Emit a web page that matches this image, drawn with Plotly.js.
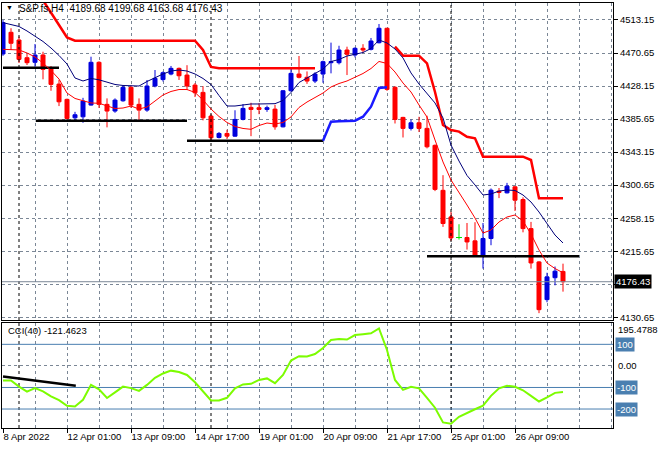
<!DOCTYPE html>
<html><head><meta charset="utf-8">
<script src="https://cdn.plot.ly/plotly-3.0.1.min.js"></script>
<style>html,body{margin:0;padding:0;background:#fff}#chart{width:660px;height:450px}</style>
</head><body><div id="chart"></div>
<script>
const symbolName = 'S&P.fs,H4';
const openP = [4469.4,4497.3,4487.4,4464.6,4458.7,4468.1,4451.7,4430.7,4411.0,4387.3,
4388.6,4403.7,4458.7,4404.6,4396.0,4409.2,4426.5,4404.6,4397.2,4428.2,
4436.5,4443.6,4450.9,4442.3,4429.4,4420.0,4389.5,4362.0,4367.2,4363.7,
4385.2,4400.7,4400.3,4398.1,4398.5,4375.7,4422.1,4443.6,4439.4,4434.6,
4443.6,4458.2,4458.2,4474.5,4468.1,4476.7,4475.4,4483.9,4502.5,4426.5,
4387.8,4373.7,4380.9,4373.7,4351.9,4294.0,4259.8,4233.3,4233.3,4229.0,
4209.2,4232.0,4293.0,4290.8,4298.5,4282.2,4244.8,4201.9,4153.4,4181.6,4189.68];
const highP = [4513.0,4502.5,4491.7,4469.4,4482.2,4472.3,4453.9,4435.9,4412.0,4395.0,
4413.0,4465.9,4460.0,4412.3,4412.3,4429.0,4429.0,4412.3,4435.9,4448.8,
4447.0,4454.0,4452.0,4455.0,4432.0,4428.0,4392.0,4369.0,4372.0,4397.0,
4405.0,4406.6,4406.0,4403.0,4404.0,4423.0,4450.0,4466.8,4447.0,4446.0,
4460.9,4484.0,4480.0,4478.8,4478.0,4482.0,4490.0,4508.0,4503.0,4428.0,
4388.6,4385.0,4388.6,4390.0,4353.0,4313.5,4266.3,4250.4,4252.0,4253.0,
4252.0,4296.4,4297.0,4303.6,4299.4,4285.0,4253.4,4203.0,4188.0,4196.0,4199.68];
const lowP = [4467.0,4474.5,4457.8,4455.2,4453.0,4436.8,4422.1,4402.4,4385.0,4382.0,
4380.9,4403.0,4400.0,4375.0,4393.8,4408.0,4400.0,4384.4,4395.0,4426.5,
4434.0,4442.0,4436.0,4423.0,4414.0,4384.0,4356.4,4360.8,4360.0,4363.0,
4384.0,4363.7,4392.0,4395.0,4372.0,4375.0,4421.0,4438.0,4431.0,4432.0,
4432.4,4444.5,4456.0,4442.3,4465.0,4471.0,4474.0,4483.0,4422.0,4380.0,
4362.0,4371.0,4369.0,4348.0,4293.0,4247.0,4229.0,4230.7,4217.8,4209.0,
4193.3,4223.4,4284.0,4290.0,4267.5,4240.0,4193.3,4136.0,4150.0,4171.8,4163.68];
const closeP = [4509.7,4483.2,4462.5,4458.2,4468.1,4449.6,4430.3,4407.9,4386.5,4391.2,
4408.8,4458.7,4404.6,4396.0,4410.1,4426.5,4403.7,4397.2,4428.2,4438.1,
4445.3,4450.9,4441.4,4428.2,4419.5,4387.3,4361.6,4367.2,4363.7,4385.2,
4399.4,4398.1,4398.1,4400.3,4375.7,4422.1,4444.5,4439.4,4434.6,4443.6,
4459.5,4459.5,4474.5,4469.0,4476.7,4474.5,4486.1,4502.5,4423.9,4385.2,
4373.7,4380.9,4373.7,4350.0,4295.2,4251.3,4232.8,4233.3,4227.6,4209.2,
4232.0,4294.2,4291.3,4299.4,4281.3,4244.8,4200.6,4140.5,4182.7,4190.0,4176.43];
const maFast = [4475.4,4474.6,4474.6,4470.7,4465.6,4457.8,4448.2,4437.2,4419.2,4412.2,
4408.9,4406.4,4406.0,4402.5,4399.3,4399.9,4402.5,4398.6,4401.2,4408.9,
4416.7,4421.2,4423.7,4423.7,4419.9,4410.2,4398.6,4389.0,4381.3,4376.1,
4373.6,4372.5,4377.4,4380.6,4379.3,4381.3,4388.4,4400.6,4407.6,4413.4,
4419.2,4427.0,4431.4,4434.7,4439.2,4444.3,4450.7,4459.8,4457.2,4446.2,
4432.1,4420.5,4403.8,4388.3,4358.8,4330.5,4307.3,4291.9,4275.1,4258.4,
4239.1,4242.9,4253.3,4259.7,4262.3,4254.5,4237.8,4217.2,4200.5,4193.4,4188.0];
const maSlow = [4509.7,4507.4,4504.8,4499.0,4491.9,4485.5,4477.1,4467.5,4456.5,4438.5,
4434.7,4437.9,4436.2,4432.7,4430.2,4428.9,4428.2,4428.2,4434.0,4439.2,
4443.7,4447.5,4448.8,4447.5,4443.7,4437.9,4430.2,4416.0,4402.5,4402.5,
4403.8,4405.1,4405.1,4405.1,4405.5,4409.6,4419.9,4432.7,4438.5,4443.7,
4450.1,4459.7,4462.3,4466.8,4469.1,4471.3,4476.5,4487.4,4483.6,4475.8,
4464.3,4445.0,4430.8,4419.2,4406.4,4387.1,4352.3,4331.7,4313.1,4300.9,
4288.0,4289.3,4293.1,4294.4,4293.8,4288.0,4279.0,4266.1,4250.7,4236.5,4226.3];
const stopUpper = [null,null,null,null,4554.3,4538.9,4523.4,4506.7,4490.6,4486.5,
4486.5,4486.5,4486.5,4486.5,4486.5,4486.5,4486.5,4486.5,4486.5,4486.5,
4486.5,4486.5,4486.5,4486.5,4486.5,4474.6,4452.7,4451.0,4451.0,4451.0,
4451.0,4451.0,4451.0,4451.0,4451.0,4451.0,4451.0,4451.0,4451.0,4451.0,
null,null,null,null,null,null,null,null,null,4478.8,
4467.2,4467.2,4467.2,4457.4,4420.5,4378.1,4371.6,4369.5,4363.0,4361.0,
4337.3,4337.3,4337.3,4337.3,4337.3,4337.3,4333.0,4283.7,4283.7,4283.7,4283.7];
const stopLower = [null,null,null,null,null,null,null,null,null,null,
null,null,null,null,null,null,null,null,null,null,
null,null,null,null,null,null,null,null,null,null,
null,null,null,null,null,null,null,null,null,null,
4357.9,4382.3,4382.8,4383.2,4383.6,4388.7,4401.6,4425.7,4426.6,null,
null,null,null,null,null,null,null,null,null,null,
null,null,null,null,null,null,null,null,null,null,null];
const cciName = 'CCI(40)';
const cci = [-68,-68,-96,-119,-103,-118,-141,-159,-185,-188,
-157,-88,-109,-149,-123,-96,-103,-116,-88,-55,
-35,-22,-28,-42,-76,-120,-160,-160,-148,-104,
-86,-83,-65,-58,-80,-42,25,45,44,55,
83,120,125,122,143,147,151,174,74,-65,
-111,-97,-104,-148,-194,-262,-268,-236,-217,-201,
-184,-139,-104,-92,-97,-113,-139,-165,-146,-125,-121.4623];
const cciLevels = [100, -100, -200];
const cciTrendX = [0, 9.1];
const cciTrendY = [-49.5, -92.5];
const supportLevels = [4451.7, 4383.5, 4357.7, 4209.2];
const supportFrom = [0, 4.1, 23, 53];
const supportTo = [7, 23, 40, 72];
const priceTicks = [4513.15,4470.65,4428.15,4385.65,4343.15,4300.65,4258.15,4215.65,4173.15,4130.65];
const priceTickText = ['4513.15','4470.65','4428.15','4385.65','4343.15','4300.65','4258.15','4215.65','','4130.65'];
const dateTickIdx = [0,8,16,24,32,40,48,56,64];
const dateTickText = ['8 Apr 2022','12 Apr 01:00','13 Apr 09:00','14 Apr 17:00','19 Apr 01:00','20 Apr 09:00','21 Apr 17:00','25 Apr 01:00','26 Apr 09:00'];
const separatorIdx = [2, 26, 56];
const cciAxisMax = 195.4788, cciAxisMin = -291.2113;

const FONT = 'Liberation Sans, Arial, sans-serif';
const GRID = '#7b8796';
const n = openP.length;
const idx = openP.map((_, i) => i);
const xRange = [-0.125, 76.25];
const mainRange = [4127.2, 4535.0];
const cciRange = [-288, 199];
const gridIdx = [];
for (let k = 4; k <= 76; k += 4) gridIdx.push(k);
const last = n - 1;

const isDoji = i => openP[i] === closeP[i];
const cIdx = idx.filter(i => !isDoji(i));
const dIdx = idx.filter(i => isDoji(i));

const traces = [];
const sepX = [], sepYm = [], sepYc = [];
separatorIdx.forEach(k => { sepX.push(k, k, null); sepYm.push(mainRange[0], mainRange[1], null); sepYc.push(cciRange[0], cciRange[1], null); });
traces.push({type:'scatter', mode:'lines', x:sepX, y:sepYm, xaxis:'x', yaxis:'y', line:{color:'#000', width:1, dash:'3px,3px'}, hoverinfo:'skip'});
traces.push({type:'scatter', mode:'lines', x:sepX, y:sepYc, xaxis:'x2', yaxis:'y2', line:{color:'#000', width:1, dash:'3px,3px'}, hoverinfo:'skip'});
traces.push({type:'scatter', mode:'lines', x:xRange, y:[closeP[last], closeP[last]], xaxis:'x', yaxis:'y', line:{color:GRID, width:1}, hoverinfo:'skip'});
const lvX = [], lvY = [];
cciLevels.forEach(v => { lvX.push(xRange[0], xRange[1], null); lvY.push(v, v, null); });
traces.push({type:'scatter', mode:'lines', x:lvX, y:lvY, xaxis:'x2', yaxis:'y2', line:{color:'#4a7fb0', width:1}, hoverinfo:'skip'});
const sx = [], sy = [];
supportLevels.forEach((v, i) => { sx.push(supportFrom[i], supportTo[i], null); sy.push(v, v, null); });
traces.push({type:'scatter', mode:'lines', x:sx, y:sy, xaxis:'x', yaxis:'y', line:{color:'#000', width:2.5}, hoverinfo:'skip'});
traces.push({type:'scatter', mode:'lines', x:idx, y:stopUpper, xaxis:'x', yaxis:'y', line:{color:'#ff0000', width:2.5}, connectgaps:false, hoverinfo:'skip'});
traces.push({type:'scatter', mode:'lines', x:idx, y:stopLower, xaxis:'x', yaxis:'y', line:{color:'#1a1aff', width:2.5}, connectgaps:false, hoverinfo:'skip'});
traces.push({type:'scatter', mode:'lines', x:idx, y:maSlow, xaxis:'x', yaxis:'y', line:{color:'#00007a', width:1}, hoverinfo:'skip'});
traces.push({type:'scatter', mode:'lines', x:idx, y:maFast, xaxis:'x', yaxis:'y', line:{color:'#ff0000', width:1}, hoverinfo:'skip'});
traces.push({type:'candlestick', x:cIdx, open:cIdx.map(i=>openP[i]), high:cIdx.map(i=>highP[i]), low:cIdx.map(i=>lowP[i]), close:cIdx.map(i=>closeP[i]),
  xaxis:'x', yaxis:'y', whiskerwidth:0,
  increasing:{line:{color:'#0000dd', width:1}, fillcolor:'#0000dd'},
  decreasing:{line:{color:'#ff0000', width:1}, fillcolor:'#ff0000'}, hoverinfo:'skip'});
const dx = [], dy = [];
dIdx.forEach(i => { dx.push(i, i, null, i-0.375, i+0.375, null); dy.push(lowP[i], highP[i], null, openP[i], openP[i], null); });
traces.push({type:'scatter', mode:'lines', x:dx, y:dy, xaxis:'x', yaxis:'y', line:{color:'#00dd00', width:1}, hoverinfo:'skip'});
traces.push({type:'scatter', mode:'lines', x:idx, y:cci, xaxis:'x2', yaxis:'y2', line:{color:'#7cfc00', width:2}, hoverinfo:'skip'});
traces.push({type:'scatter', mode:'lines', x:cciTrendX, y:cciTrendY, xaxis:'x2', yaxis:'y2', line:{color:'#000', width:2.5}, hoverinfo:'skip'});
traces.push({type:'scatter', mode:'markers', x:[dateTickIdx[0]], y:[0], xaxis:'x3', yaxis:'y2', marker:{opacity:0}, hoverinfo:'skip'});

const f = v => v.toFixed(2);
const annotations = [
  {xref:'paper', yref:'paper', x:(9.5-2)/611, y:(428-8)/425, xanchor:'center', yanchor:'middle', text:'▼', showarrow:false, font:{family:FONT, size:7, color:'#000'}},
  {xref:'paper', yref:'paper', x:(17-2)/611, y:(428-8.5)/425, xanchor:'left', yanchor:'middle', showarrow:false,
   text: symbolName + '  ' + f(openP[last]) + ' ' + f(highP[last]) + ' ' + f(lowP[last]) + ' ' + f(closeP[last]), font:{family:FONT, size:10, color:'#000'}},
  {xref:'paper', yref:'paper', x:(6-2)/611, y:(428-330)/425, xanchor:'left', yanchor:'middle', showarrow:false,
   text: cciName + ' ' + cci[last].toFixed(4), font:{family:FONT, size:9.5, color:'#000'}},
  {xref:'paper', yref:'y', x:1, xshift:1, y:closeP[last], xanchor:'left', yanchor:'middle', showarrow:false, bgcolor:'#000', borderpad:1,
   text: f(closeP[last]), font:{family:FONT, size:9.5, color:'#fff'}},
  {xref:'paper', yref:'y2', x:1, xshift:3, y:cciAxisMax, yshift:-6, xanchor:'left', yanchor:'middle', showarrow:false, text:cciAxisMax.toFixed(4), font:{family:FONT, size:9.5, color:'#000'}},
  {xref:'paper', yref:'y2', x:1, xshift:3, y:0, xanchor:'left', yanchor:'middle', showarrow:false, text:'0.00', font:{family:FONT, size:9.5, color:'#000'}},
  {xref:'paper', yref:'y2', x:1, xshift:3, y:cciAxisMin, yshift:6, xanchor:'left', yanchor:'middle', showarrow:false, text:cciAxisMin.toFixed(4), font:{family:FONT, size:9.5, color:'#000'}}
];
cciLevels.forEach(v => annotations.push({xref:'paper', yref:'y2', x:1, xshift:2, y:v, xanchor:'left', yanchor:'middle', showarrow:false, bgcolor:'#4a7fb0', borderpad:1,
  text:String(v), font:{family:FONT, size:9.5, color:'#fff'}}));

const layout = {
  width:660, height:450, margin:{l:2, r:47, t:3, b:22},
  paper_bgcolor:'#fff', plot_bgcolor:'#fff', showlegend:false, hovermode:false,
  font:{family:FONT, size:9.5, color:'#000'},
  boxgap:0.5, boxgroupgap:0,
  xaxis:{domain:[0,1], anchor:'y', range:xRange, tickmode:'array', tickvals:gridIdx, showticklabels:false, ticks:'',
    showgrid:true, gridcolor:GRID, griddash:'3px,3px', gridwidth:1, zeroline:false, showline:true, linecolor:'#000', linewidth:1, mirror:true,
    rangeslider:{visible:false}},
  yaxis:{domain:[108/425, 1], anchor:'x', side:'right', range:mainRange, tickmode:'array', tickvals:priceTicks, ticktext:priceTickText,
    ticks:'outside', ticklen:4, tickcolor:'#000', showgrid:true, gridcolor:GRID, griddash:'3px,3px', zeroline:false,
    showline:true, linecolor:'#000', linewidth:1, mirror:true, tickfont:{family:FONT, size:9.5, color:'#000'}},
  xaxis2:{domain:[0,1], anchor:'y2', range:xRange, tickmode:'array', tickvals:gridIdx, showticklabels:false, ticks:'',
    showgrid:true, gridcolor:GRID, griddash:'3px,3px', zeroline:false, showline:true, linecolor:'#000', linewidth:1, mirror:true,
    rangeslider:{visible:false}},
  xaxis3:{overlaying:'x2', anchor:'y2', range:xRange, tickmode:'array', tickvals:dateTickIdx, ticktext:dateTickText,
    ticks:'outside', ticklen:4, tickcolor:'#000', ticklabelposition:'outside right', showgrid:false, zeroline:false, showline:false,
    tickfont:{family:FONT, size:9.5, color:'#000'}},
  yaxis2:{domain:[0, 105/425], anchor:'x2', side:'right', range:cciRange, tickmode:'array', tickvals:[0], showticklabels:false, ticks:'',
    showgrid:true, gridcolor:GRID, griddash:'3px,3px', zeroline:false, showline:true, linecolor:'#000', linewidth:1, mirror:true},
  annotations:annotations
};

Plotly.newPlot('chart', traces, layout, {staticPlot:true, displayModeBar:false});
</script></body></html>
